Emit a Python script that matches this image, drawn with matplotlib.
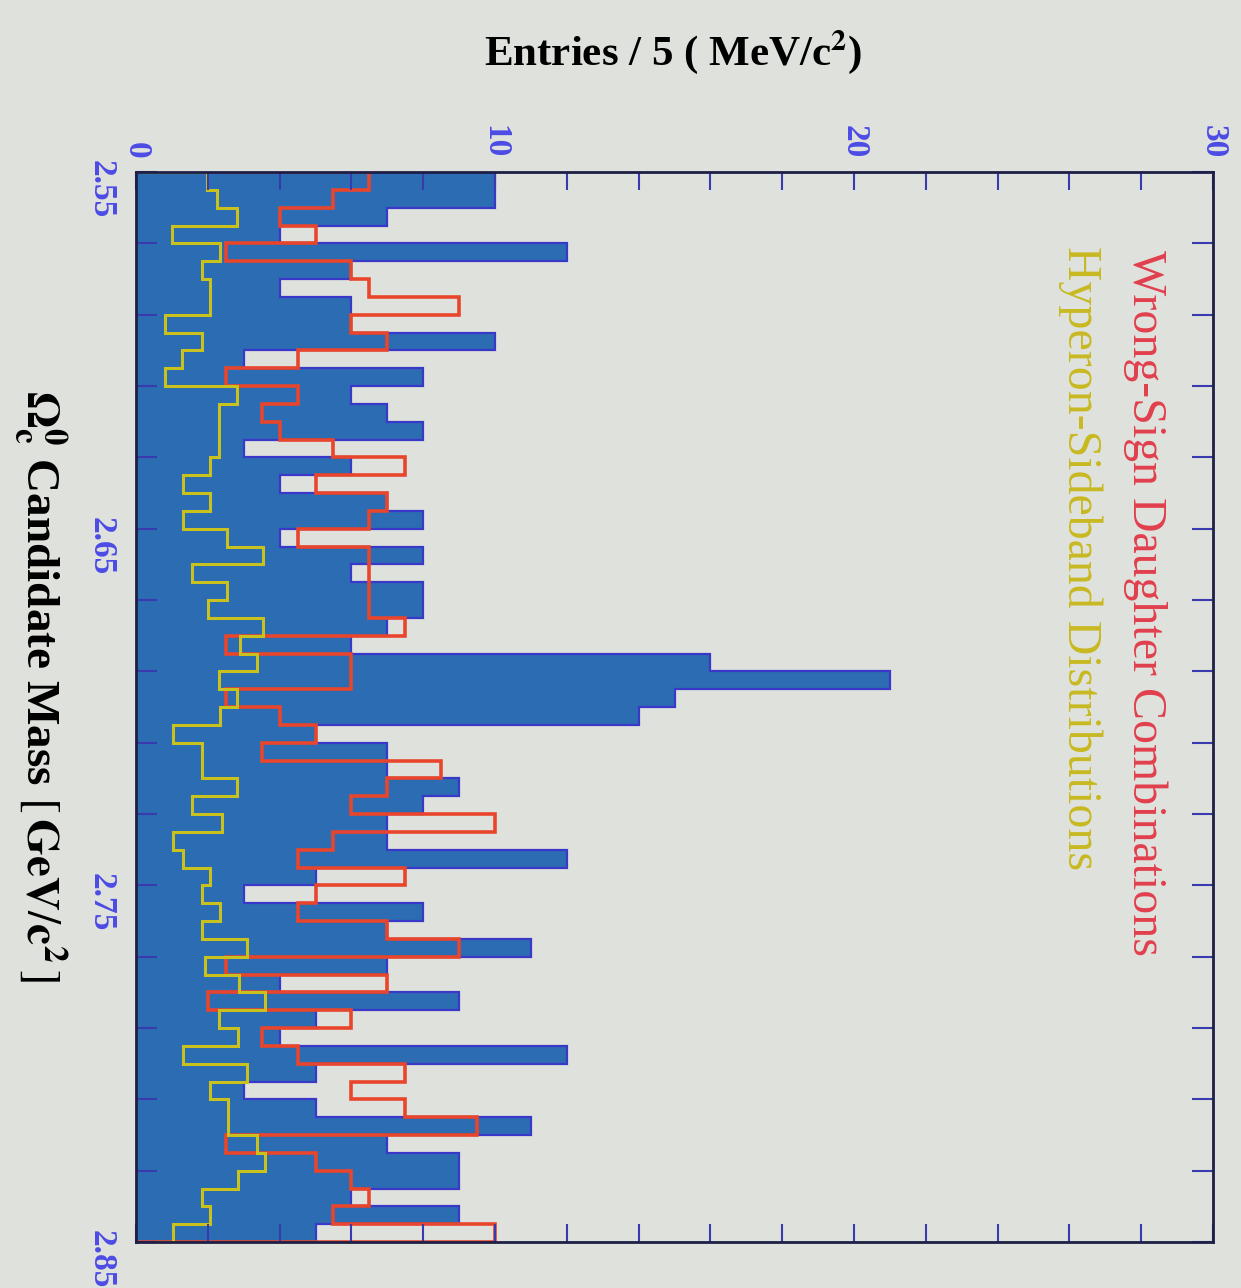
import numpy as np
import matplotlib
matplotlib.use("Agg")
import matplotlib.pyplot as plt
from matplotlib.ticker import MultipleLocator

# --- data (5 MeV bins, 2.55 - 2.85 GeV) ---
mass_edges = np.linspace(2.55, 2.85, 61)

signal_counts = [10, 10, 7, 4, 12, 6, 4, 6, 6, 10,
                 3, 8, 6, 7, 8, 3, 6, 4, 7, 8,
                 4, 8, 6, 8, 8, 7, 6, 16, 21, 15,
                 14, 5, 7, 7, 9, 8, 7, 7, 12, 5,
                 3, 8, 7, 11, 7, 4, 9, 5, 4, 12,
                 5, 3, 5, 11, 7, 9, 9, 6, 9, 5]

wrong_sign = [6.5, 5.5, 4, 5, 2.5, 6, 6.5, 9, 6, 7,
              4.5, 2.5, 4.5, 3.5, 4, 5.5, 7.5, 5, 7, 6.5,
              4.5, 6.5, 6.5, 6.5, 6.5, 7.5, 2.5, 6, 6, 2.5,
              4, 5, 3.5, 8.5, 7, 6, 10, 5.5, 4.5, 7.5,
              5, 4.5, 7, 9, 2.5, 7, 2, 6, 3.5, 4.5,
              7.5, 6, 7.5, 9.5, 2.5, 5, 6, 6.5, 5.5, 10]

sideband = [1.97, 2.25, 2.8, 1.0, 2.35, 1.83, 2.06, 2.06, 0.8, 1.83,
            1.27, 0.8, 2.8, 2.3, 2.3, 2.3, 2.06, 1.32, 2.06, 1.32,
            2.53, 3.55, 1.55, 2.53, 2.0, 3.55, 2.9, 3.36, 2.3, 2.8,
            2.34, 1.04, 1.83, 1.83, 2.8, 1.55, 2.4, 1.04, 1.32, 2.06,
            1.83, 2.34, 1.83, 3.08, 1.92, 2.86, 3.59, 2.3, 2.85, 1.32,
            3.08, 2.06, 2.57, 2.57, 3.36, 3.59, 2.85, 1.83, 2.06, 1.04]

mass_ticks = [2.55, 2.65, 2.75, 2.85]
mass_minor = np.round(np.arange(2.55, 2.851, 0.02), 3)

# --- style ---
plt.rcParams["font.family"] = ["Liberation Serif", "DejaVu Serif"]
plt.rcParams["mathtext.fontset"] = "stix"

bg = "#dfe1dc"
fill_blue = "#2b6cb2"
edge_blue = "#3a38c8"
red = "#e8452c"
yellow = "#c9c21e"
label_blue = "#4c4ce6"

fig = plt.figure(figsize=(12.41, 12.88), dpi=100, facecolor=bg)
ax = fig.add_axes([0.1096, 0.0357, 0.8679, 0.8307], facecolor=bg)

# --- histograms (drawn sideways) ---
ax.stairs(signal_counts, mass_edges, orientation="horizontal", fill=True,
          color=fill_blue, baseline=0)
ax.stairs(signal_counts, mass_edges, orientation="horizontal",
          color=edge_blue, lw=1.6)
ax.stairs(wrong_sign, mass_edges, orientation="horizontal", color=red, lw=2.6)
ax.stairs(sideband, mass_edges, orientation="horizontal", color=yellow, lw=2.2)

ax.set_xlim(0, 30)
ax.set_ylim(2.85, 2.55)

# --- axes / ticks ---
ax.xaxis.set_major_locator(MultipleLocator(10))
ax.xaxis.set_minor_locator(MultipleLocator(2))
ax.tick_params(axis="x", which="both", direction="in", top=True, bottom=True,
               labeltop=True, labelbottom=False, length=13, width=1.5,
               color="#3a3ab0", labelcolor=label_blue, labelsize=24,
               pad=10, labelrotation=-90)

ax.set_yticks(mass_ticks)
ax.set_yticks(mass_minor, minor=True)
ax.set_yticklabels(["%.2f" % m for m in mass_ticks])
ax.tick_params(axis="y", which="both", direction="in", left=True, right=True,
               length=15, width=1.5, color="#3a3ab0", labelcolor=label_blue,
               labelsize=24, pad=14, labelrotation=-90)

for lab in ax.get_xticklabels() + ax.get_yticklabels():
    lab.set_fontweight("bold")

for sp in ax.spines.values():
    sp.set_color("#1e1e46")
    sp.set_linewidth(2)

# --- labels ---
fig.text(673 / 1241, 1 - 52 / 1288, r"Entries / 5 ( MeV/c$^{\mathbf{2}}$)",
         ha="center", va="center", fontsize=31, fontweight="bold")
fig.text(40 / 1241, 0.467,
         r"$\mathbf{\Omega_c^0}$ Candidate Mass $\left[\,\mathbf{GeV}/\mathbf{c}^{\mathbf{2}}\,\right]$",
         ha="center", va="center", rotation=-90, fontsize=34, fontweight="bold")

fig.text(1145 / 1241, 1 - 250 / 1288, "Wrong-Sign Daughter Combinations",
         ha="center", va="top", rotation=-90, fontsize=34.5, color="#e2404e")
fig.text(1080 / 1241, 1 - 246 / 1288, "Hyperon-Sideband Distributions",
         ha="center", va="top", rotation=-90, fontsize=34.5, color="#c8b820")

plt.savefig("out.png", dpi=100, facecolor=bg)
